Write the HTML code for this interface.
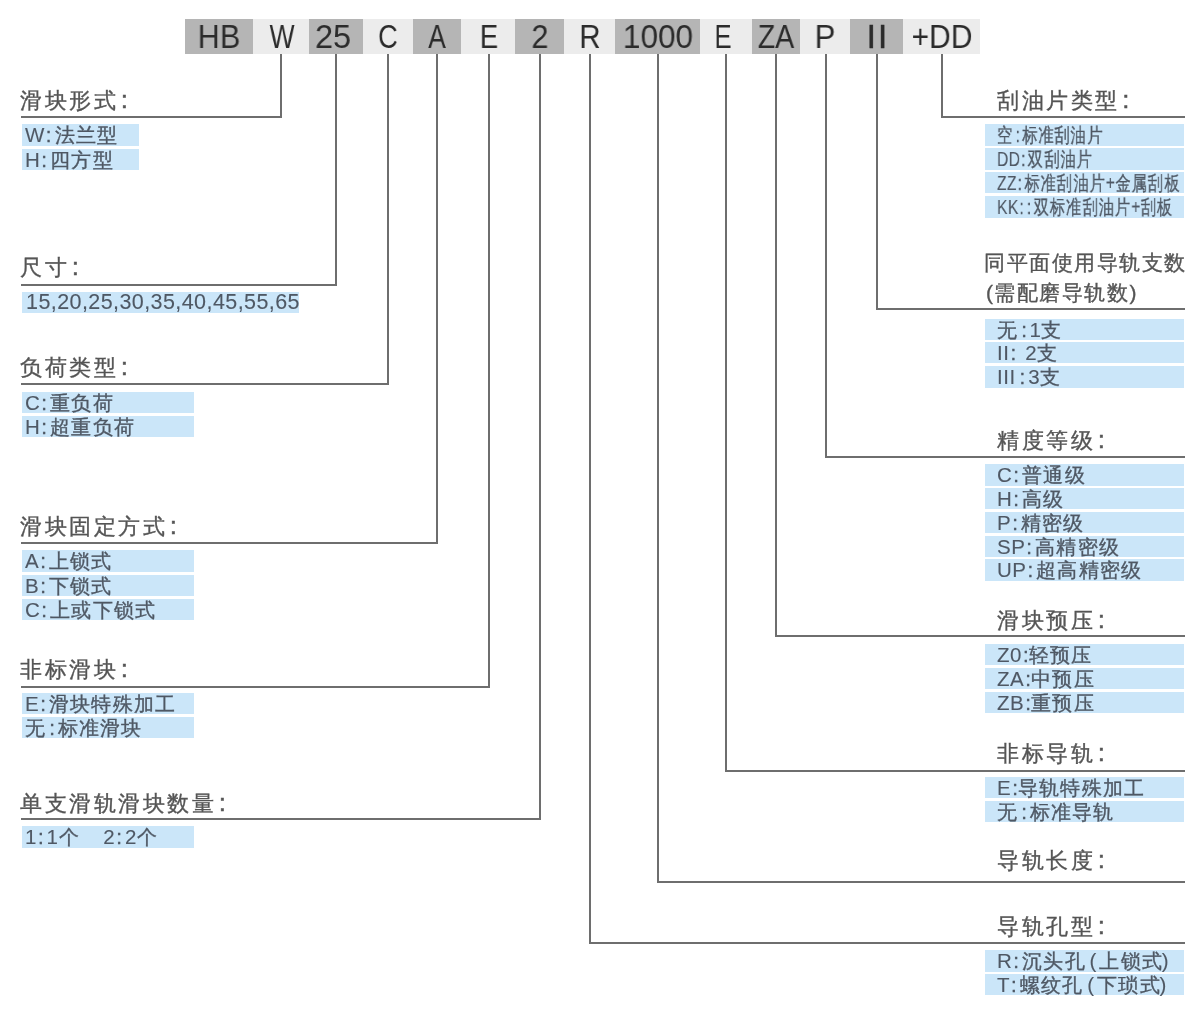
<!DOCTYPE html>
<html><head><meta charset="utf-8"><style>
html,body{margin:0;padding:0;background:#fff}
body{width:1200px;height:1013px;position:relative;overflow:hidden;font-family:"Liberation Sans",sans-serif}
.bl,.tt,.rt{will-change:transform}
.tt,.rt{-webkit-text-stroke:0.35px}
.rt .l,.rt .po,.rt .pc{-webkit-text-stroke:0.1px}
.bx{position:absolute;top:19px;height:35px}
.bl{position:absolute;top:19px;width:400px;height:35px;line-height:35px;text-align:center;font-size:33px;color:#2b2b2b;white-space:nowrap}
.ln{position:absolute;background:#6e6e6e}
.tt{position:absolute;font-size:22px;line-height:22px;color:#555555;letter-spacing:2.5px;white-space:nowrap}
.t2{font-size:21px;line-height:21px;letter-spacing:1.5px}
.tc2{margin-left:3px;font-size:24px;line-height:0;-webkit-text-stroke:0.6px}
.rb{position:absolute;background:#cbe6f9}
.rt{position:absolute;font-size:20px;line-height:20px;color:#4f5864;letter-spacing:1.3px;white-space:nowrap}
.rt .l{font-size:20.5px;line-height:0;letter-spacing:0.5px}
.rt .c{font-size:20.5px;line-height:0;letter-spacing:0;margin:0 3px 0 1px}
.tc .c{margin:0 0 0 1px}
.rt .cc{margin:0 2.5px 0 3px}
.rt .cw{margin:0 3px 0 4px}
.rt .po{font-size:20.5px;line-height:0;letter-spacing:0;margin:0 3px 0 3.5px}
.rt .pc{font-size:20.5px;line-height:0;letter-spacing:0;margin:0 0 0 -1.5px}
.dg .l{letter-spacing:0.42px;font-size:21.5px}
.dg{margin-top:-1.5px}
.sq{transform:scaleX(0.765);transform-origin:0 0}
</style></head><body>
<div class="bx" style="left:185px;width:68px;background:#b5b5b5"></div>
<div class="bx" style="left:253px;width:56px;background:#ececec"></div>
<div class="bx" style="left:309px;width:54px;background:#b5b5b5"></div>
<div class="bx" style="left:363px;width:50px;background:#ececec"></div>
<div class="bx" style="left:413px;width:48px;background:#b5b5b5"></div>
<div class="bx" style="left:461px;width:54px;background:#ececec"></div>
<div class="bx" style="left:515px;width:49px;background:#b5b5b5"></div>
<div class="bx" style="left:564px;width:51px;background:#ececec"></div>
<div class="bx" style="left:615px;width:85px;background:#b5b5b5"></div>
<div class="bx" style="left:700px;width:52px;background:#ececec"></div>
<div class="bx" style="left:752px;width:48px;background:#b5b5b5"></div>
<div class="bx" style="left:800px;width:50px;background:#ececec"></div>
<div class="bx" style="left:850px;width:53px;background:#b5b5b5"></div>
<div class="bx" style="left:903px;width:77px;background:#ececec"></div>
<div class="bl" style="left:19px;transform:scaleX(0.927)">HB</div>
<div class="bl" style="left:81.5px;transform:scaleX(0.806)">W</div>
<div class="bl" style="left:133.25px;transform:scaleX(0.985)">25</div>
<div class="bl" style="left:188.25px;transform:scaleX(0.825)">C</div>
<div class="bl" style="left:237.25px;transform:scaleX(0.795)">A</div>
<div class="bl" style="left:288.5px;transform:scaleX(0.833)">E</div>
<div class="bl" style="left:340px;transform:scaleX(0.933)">2</div>
<div class="bl" style="left:389.5px;transform:scaleX(0.895)">R</div>
<div class="bl" style="left:457.79999999999995px;transform:scaleX(0.957)">1000</div>
<div class="bl" style="left:523.3px;transform:scaleX(0.778)">E</div>
<div class="bl" style="left:575.5px;transform:scaleX(0.868)">ZA</div>
<div class="bl" style="left:625px;transform:scaleX(0.941)">P</div>
<div class="bl" style="left:676.75px;-webkit-text-stroke:0.45px">I<span style="margin-left:2px">I</span></div>
<div class="bl" style="left:742.1px;transform:scaleX(0.908)">+DD</div>
<div class="ln" style="left:280px;top:54px;width:2px;height:64px"></div>
<div class="ln" style="left:21px;top:116px;width:261px;height:2px"></div>
<div class="ln" style="left:335px;top:54px;width:2px;height:232px"></div>
<div class="ln" style="left:21px;top:284px;width:316px;height:2px"></div>
<div class="ln" style="left:387px;top:54px;width:2px;height:331px"></div>
<div class="ln" style="left:21px;top:383px;width:368px;height:2px"></div>
<div class="ln" style="left:436px;top:54px;width:2px;height:490px"></div>
<div class="ln" style="left:21px;top:542px;width:417px;height:2px"></div>
<div class="ln" style="left:488px;top:54px;width:2px;height:634px"></div>
<div class="ln" style="left:21px;top:686px;width:469px;height:2px"></div>
<div class="ln" style="left:539px;top:54px;width:2px;height:766px"></div>
<div class="ln" style="left:21px;top:818px;width:520px;height:2px"></div>
<div class="ln" style="left:589px;top:54px;width:2px;height:890px"></div>
<div class="ln" style="left:589px;top:942px;width:596px;height:2px"></div>
<div class="ln" style="left:657px;top:54px;width:2px;height:829px"></div>
<div class="ln" style="left:657px;top:881px;width:528px;height:2px"></div>
<div class="ln" style="left:725px;top:54px;width:2px;height:718px"></div>
<div class="ln" style="left:725px;top:770px;width:460px;height:2px"></div>
<div class="ln" style="left:775px;top:54px;width:2px;height:583px"></div>
<div class="ln" style="left:775px;top:635px;width:410px;height:2px"></div>
<div class="ln" style="left:825px;top:54px;width:2px;height:404px"></div>
<div class="ln" style="left:825px;top:456px;width:360px;height:2px"></div>
<div class="ln" style="left:876px;top:54px;width:2px;height:256px"></div>
<div class="ln" style="left:876px;top:308px;width:309px;height:2px"></div>
<div class="ln" style="left:941px;top:54px;width:2px;height:64px"></div>
<div class="ln" style="left:941px;top:116px;width:244px;height:2px"></div>
<div class="tt" style="left:19.8px;top:90px">滑块形式<span class="tc2">:</span></div>
<div class="tt" style="left:19.8px;top:257px">尺寸<span class="tc2">:</span></div>
<div class="tt" style="left:19.8px;top:357px">负荷类型<span class="tc2">:</span></div>
<div class="tt" style="left:19.8px;top:516px">滑块固定方式<span class="tc2">:</span></div>
<div class="tt" style="left:19.8px;top:659px">非标滑块<span class="tc2">:</span></div>
<div class="tt" style="left:19.8px;top:793px">单支滑轨滑块数量<span class="tc2">:</span></div>
<div class="tt" style="left:997px;top:90px">刮油片类型<span class="tc2">:</span></div>
<div class="tt" style="left:997px;top:430px">精度等级<span class="tc2">:</span></div>
<div class="tt" style="left:997px;top:610px">滑块预压<span class="tc2">:</span></div>
<div class="tt" style="left:997px;top:743px">非标导轨<span class="tc2">:</span></div>
<div class="tt" style="left:997px;top:850px">导轨长度<span class="tc2">:</span></div>
<div class="tt" style="left:997px;top:916px">导轨孔型<span class="tc2">:</span></div>
<div class="tt t2" style="left:983.5px;top:252px">同平面使用导轨支数</div>
<div class="tt t2" style="left:986px;top:281.5px">(需配磨导轨数)</div>
<div class="rb" style="left:22px;top:124px;width:117px;height:22px"></div>
<div class="rt " style="left:24.5px;top:125.3px"><span class="l">W</span><span class="c">:</span>法兰型</div>
<div class="rb" style="left:22px;top:149px;width:117px;height:21px"></div>
<div class="rt " style="left:24.5px;top:150.3px"><span class="l">H</span><span class="c">:</span>四方型</div>
<div class="rb" style="left:22px;top:292px;width:277px;height:21px"></div>
<div class="rt dg" style="left:25.5px;top:293.3px"><span class="l">15,20,25,30,35,40,45,55,65</span></div>
<div class="rb" style="left:22px;top:392px;width:172px;height:21px"></div>
<div class="rt " style="left:24.5px;top:393.3px"><span class="l">C</span><span class="c">:</span>重负荷</div>
<div class="rb" style="left:22px;top:416px;width:172px;height:21px"></div>
<div class="rt " style="left:24.5px;top:417.3px"><span class="l">H</span><span class="c">:</span>超重负荷</div>
<div class="rb" style="left:22px;top:550px;width:172px;height:22px"></div>
<div class="rt " style="left:24.5px;top:551.3px"><span class="l">A</span><span class="c">:</span>上锁式</div>
<div class="rb" style="left:22px;top:575px;width:172px;height:21px"></div>
<div class="rt " style="left:24.5px;top:576.3px"><span class="l">B</span><span class="c">:</span>下锁式</div>
<div class="rb" style="left:22px;top:599px;width:172px;height:21px"></div>
<div class="rt " style="left:24.5px;top:600.3px"><span class="l">C</span><span class="c">:</span>上或下锁式</div>
<div class="rb" style="left:22px;top:693px;width:172px;height:21px"></div>
<div class="rt " style="left:24.5px;top:694.3px"><span class="l">E</span><span class="c">:</span>滑块特殊加工</div>
<div class="rb" style="left:22px;top:717px;width:172px;height:21px"></div>
<div class="rt " style="left:24.5px;top:718.3px">无<span class="c cc">:</span>标准滑块</div>
<div class="rb" style="left:22px;top:826px;width:172px;height:22px"></div>
<div class="rt cnt" style="left:25px;top:827.3px"><span class="l">1</span><span class="c">:</span><span class="l">1</span>个<span style="margin-left:23.5px"></span><span class="l">2</span><span class="c">:</span><span class="l">2</span>个</div>
<div class="rb" style="left:985px;top:124px;width:199px;height:22px"></div>
<div class="rt sq" style="left:996.5px;top:125.3px">空<span class="c cc">:</span>标准刮油片</div>
<div class="rb" style="left:985px;top:148px;width:199px;height:22px"></div>
<div class="rt sq" style="left:996.5px;top:149.3px"><span class="l">DD</span><span class="c">:</span>双刮油片</div>
<div class="rb" style="left:985px;top:172px;width:199px;height:21px"></div>
<div class="rt sq" style="left:996.5px;top:173.3px"><span class="l">ZZ</span><span class="c">:</span>标准刮油片<span class="l">+</span>金属刮板</div>
<div class="rb" style="left:985px;top:196px;width:199px;height:22px"></div>
<div class="rt sq" style="left:996.5px;top:197.3px"><span class="l">KK</span><span class="c">:</span><span class="c">:</span>双标准刮油片<span class="l">+</span>刮板</div>
<div class="rb" style="left:985px;top:319px;width:199px;height:21px"></div>
<div class="rt " style="left:996.5px;top:320.3px">无<span class="c cc">:</span><span class="l">1</span>支</div>
<div class="rb" style="left:985px;top:342px;width:199px;height:21px"></div>
<div class="rt " style="left:996.5px;top:343.3px"><span class="l">II</span><span class="c">:</span><span class="l">&nbsp;2</span>支</div>
<div class="rb" style="left:985px;top:366px;width:199px;height:22px"></div>
<div class="rt " style="left:996.5px;top:367.3px"><span class="l">III</span><span class="c cw">:</span><span class="l">3</span>支</div>
<div class="rb" style="left:985px;top:464px;width:199px;height:22px"></div>
<div class="rt " style="left:996.5px;top:465.3px"><span class="l">C</span><span class="c">:</span>普通级</div>
<div class="rb" style="left:985px;top:488px;width:199px;height:21px"></div>
<div class="rt " style="left:996.5px;top:489.3px"><span class="l">H</span><span class="c">:</span>高级</div>
<div class="rb" style="left:985px;top:512px;width:199px;height:21px"></div>
<div class="rt " style="left:996.5px;top:513.3px"><span class="l">P</span><span class="c">:</span>精密级</div>
<div class="rb" style="left:985px;top:536px;width:199px;height:21px"></div>
<div class="rt " style="left:996.5px;top:537.3px"><span class="l">SP</span><span class="c">:</span>高精密级</div>
<div class="rb" style="left:985px;top:559px;width:199px;height:22px"></div>
<div class="rt " style="left:996.5px;top:560.3px"><span class="l">UP</span><span class="c">:</span>超高精密级</div>
<div class="rb" style="left:985px;top:644px;width:199px;height:21px"></div>
<div class="rt tc" style="left:996.5px;top:645.3px"><span class="l">Z0</span><span class="c">:</span>轻预压</div>
<div class="rb" style="left:985px;top:668px;width:199px;height:21px"></div>
<div class="rt tc" style="left:996.5px;top:669.3px"><span class="l">ZA</span><span class="c">:</span>中预压</div>
<div class="rb" style="left:985px;top:692px;width:199px;height:21px"></div>
<div class="rt tc" style="left:996.5px;top:693.3px"><span class="l">ZB</span><span class="c">:</span>重预压</div>
<div class="rb" style="left:985px;top:777px;width:199px;height:21px"></div>
<div class="rt tc" style="left:996.5px;top:778.3px"><span class="l">E</span><span class="c">:</span>导轨特殊加工</div>
<div class="rb" style="left:985px;top:801px;width:199px;height:21px"></div>
<div class="rt tc" style="left:996.5px;top:802.3px">无<span class="c cc">:</span>标准导轨</div>
<div class="rb" style="left:985px;top:950px;width:199px;height:22px"></div>
<div class="rt " style="left:996.5px;top:951.3px"><span class="l">R</span><span class="c">:</span>沉头孔<span class="po">(</span>上锁式<span class="pc">)</span></div>
<div class="rb" style="left:985px;top:974px;width:199px;height:21px"></div>
<div class="rt " style="left:996.5px;top:975.3px"><span class="l">T</span><span class="c">:</span>螺纹孔<span class="po">(</span>下琐式<span class="pc">)</span></div>
</body></html>
